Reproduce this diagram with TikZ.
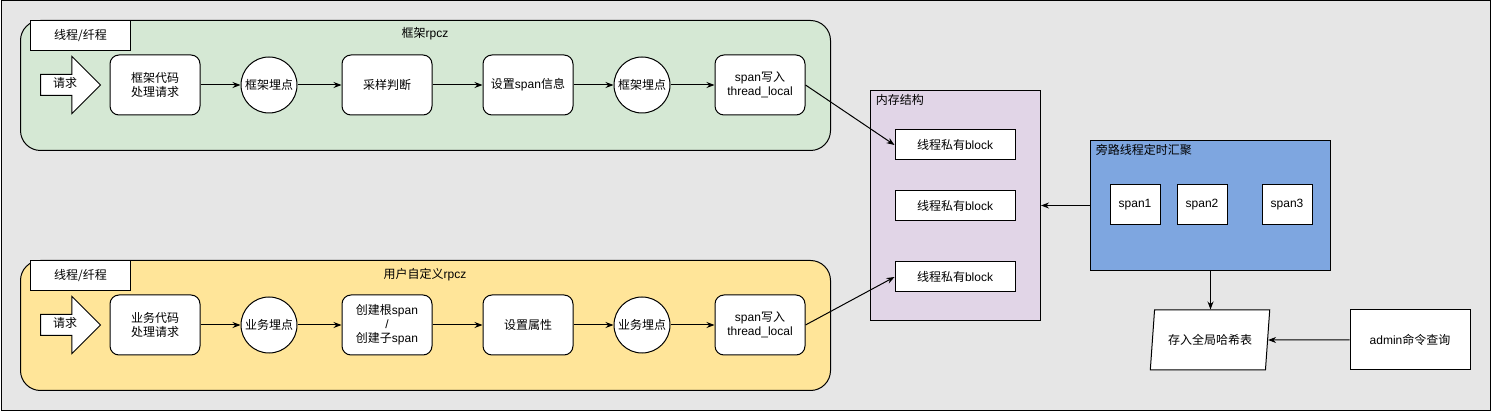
\documentclass[tikz,border=0pt]{standalone}
\usepackage{fontspec}
\setmainfont{Liberation Sans}
\newfontfamily\cjkfont{Noto Sans CJK SC}
\newcommand{\zh}[1]{{\cjkfont #1}}
\usetikzlibrary{shapes.geometric, shapes.arrows, arrows.meta, positioning}
\definecolor{canvasgray}{RGB}{230, 230, 230}
\definecolor{framegreen}{RGB}{213, 232, 212}
\definecolor{useryellow}{RGB}{255, 229, 153}
\definecolor{mempurple}{RGB}{225, 213, 231}
\definecolor{aggblue}{RGB}{126, 166, 224}
\tikzstyle{lane} = [rectangle, rounded corners=20pt, draw=black, minimum width=810pt, minimum height=130pt, anchor=north west]
\tikzstyle{tag} = [rectangle, draw=black, fill=white, minimum width=100pt, minimum height=30pt, anchor=north west]
\tikzstyle{request} = [single arrow, draw=black, fill=white, minimum height=60pt, single arrow head extend=18pt, inner xsep=2pt, inner ysep=4pt, text height=9pt, text depth=3pt, anchor=tail]
\tikzstyle{process} = [rectangle, rounded corners=9pt, draw=black, fill=white, minimum width=90pt, minimum height=60pt, align=center]
\tikzstyle{probe} = [circle, draw=black, fill=white, minimum size=56pt, inner sep=1pt]
\tikzstyle{block} = [rectangle, draw=black, fill=white, minimum width=120pt, minimum height=30pt]
\tikzstyle{spanbox} = [rectangle, draw=black, fill=white, minimum width=50pt, minimum height=40pt]
\tikzstyle{arrow} = [->, >={Stealth[length=8pt, width=6pt]}]

\begin{document}
\begin{tikzpicture}[x=1pt, y=-1pt, line width=1pt, every node/.style={font=\fontsize{12}{14}\selectfont}]
      \useasboundingbox (0,0) rectangle (1491,411);
      \node[draw=black, fill=canvasgray, minimum width=1489pt, minimum height=409pt, inner sep=0pt, anchor=north west] (canvas) at (0.5,0.5) {};

      % framework lane
      \node[lane, fill=framegreen] (fwlane) at (20,20) {};
      \node[tag] (fwtag) at (30,20) {\zh{线程/纤程}};
      \node (fwtitle) at (425,34) {\zh{框架}rpcz};
      \node[request] (fwreq) at (40,85) {\zh{请求}};
      \node[process] (fwcode) at (155,85) {\zh{框架代码}\\\zh{处理请求}};
      \node[probe, right=40pt of fwcode] (fwprobe) {\zh{框架埋点}};
      \node[process, right=44pt of fwprobe] (sample) {\zh{采样判断}};
      \node[process, right=50pt of sample] (setspan) {\zh{设置}span\zh{信息}};
      \node[probe, right=40pt of setspan] (fwprobe2) {\zh{框架埋点}};
      \node[process, right=44pt of fwprobe2] (fwwrite) {span\zh{写入}\\thread\_local};

      % user lane
      \node[lane, fill=useryellow] (bizlane) at (20,260) {};
      \node[tag] (biztag) at (30,260) {\zh{线程/纤程}};
      \node (biztitle) at (425,275) {\zh{用户自定义}rpcz};
      \node[request] (bizreq) at (40,325) {\zh{请求}};
      \node[process] (bizcode) at (155,325) {\zh{业务代码}\\\zh{处理请求}};
      \node[probe, right=40pt of bizcode] (bizprobe) {\zh{业务埋点}};
      \node[process, right=44pt of bizprobe] (mkspan) {\zh{创建根}span\\/\\\zh{创建子}span};
      \node[process, right=50pt of mkspan] (setattr) {\zh{设置属性}};
      \node[probe, right=40pt of setattr] (bizprobe2) {\zh{业务埋点}};
      \node[process, right=44pt of bizprobe2] (bizwrite) {span\zh{写入}\\thread\_local};

      % memory
      \node[draw=black, fill=mempurple, minimum width=170pt, minimum height=230pt, anchor=north west] (mem) at (870,90) {};
      \node[anchor=west] (memtitle) at (872,100) {\zh{内存结构}};
      \node[block] (blk1) at (955,145) {\zh{线程私有}block};
      \node[block, below=30pt of blk1] (blk2) {\zh{线程私有}block};
      \node[block, below=40pt of blk2] (blk3) {\zh{线程私有}block};

      % aggregator
      \node[draw=black, fill=aggblue, minimum width=240pt, minimum height=130pt, anchor=north west] (agg) at (1090,140) {};
      \node[anchor=west] (aggtitle) at (1092,150) {\zh{旁路线程定时汇聚}};
      \node[spanbox] (span1) at (1135,205) {span1};
      \node[spanbox, right=16pt of span1] (span2) {span2};
      \node[spanbox, right=34pt of span2] (span3) {span3};

      \node[trapezium, trapezium left angle=79, trapezium right angle=101, trapezium stretches=true, draw=black, fill=white, minimum width=120pt, minimum height=60pt] (hash) at (1210,340) {\zh{存入全局哈希表}};
      \node[draw=black, fill=white, minimum width=120pt, minimum height=60pt] (admin) at (1410,340) {admin\zh{命令查询}};

      \draw[arrow] (fwcode) -- (fwprobe);
      \draw[arrow] (fwprobe) -- (sample);
      \draw[arrow] (sample) -- (setspan);
      \draw[arrow] (setspan) -- (fwprobe2);
      \draw[arrow] (fwprobe2) -- (fwwrite);
      \draw[arrow] (bizcode) -- (bizprobe);
      \draw[arrow] (bizprobe) -- (mkspan);
      \draw[arrow] (mkspan) -- (setattr);
      \draw[arrow] (setattr) -- (bizprobe2);
      \draw[arrow] (bizprobe2) -- (bizwrite);
      \draw[arrow] (fwwrite.east) -- (blk1.west);
      \draw[arrow] (bizwrite.east) -- (blk3.west);
      \draw[arrow] (agg.west) -- (mem.east);
      \draw[arrow] (agg.south) -- (agg.south |- hash.north);
      \draw[arrow] (admin.west) -- (hash.east);
    \end{tikzpicture}
\end{document}
